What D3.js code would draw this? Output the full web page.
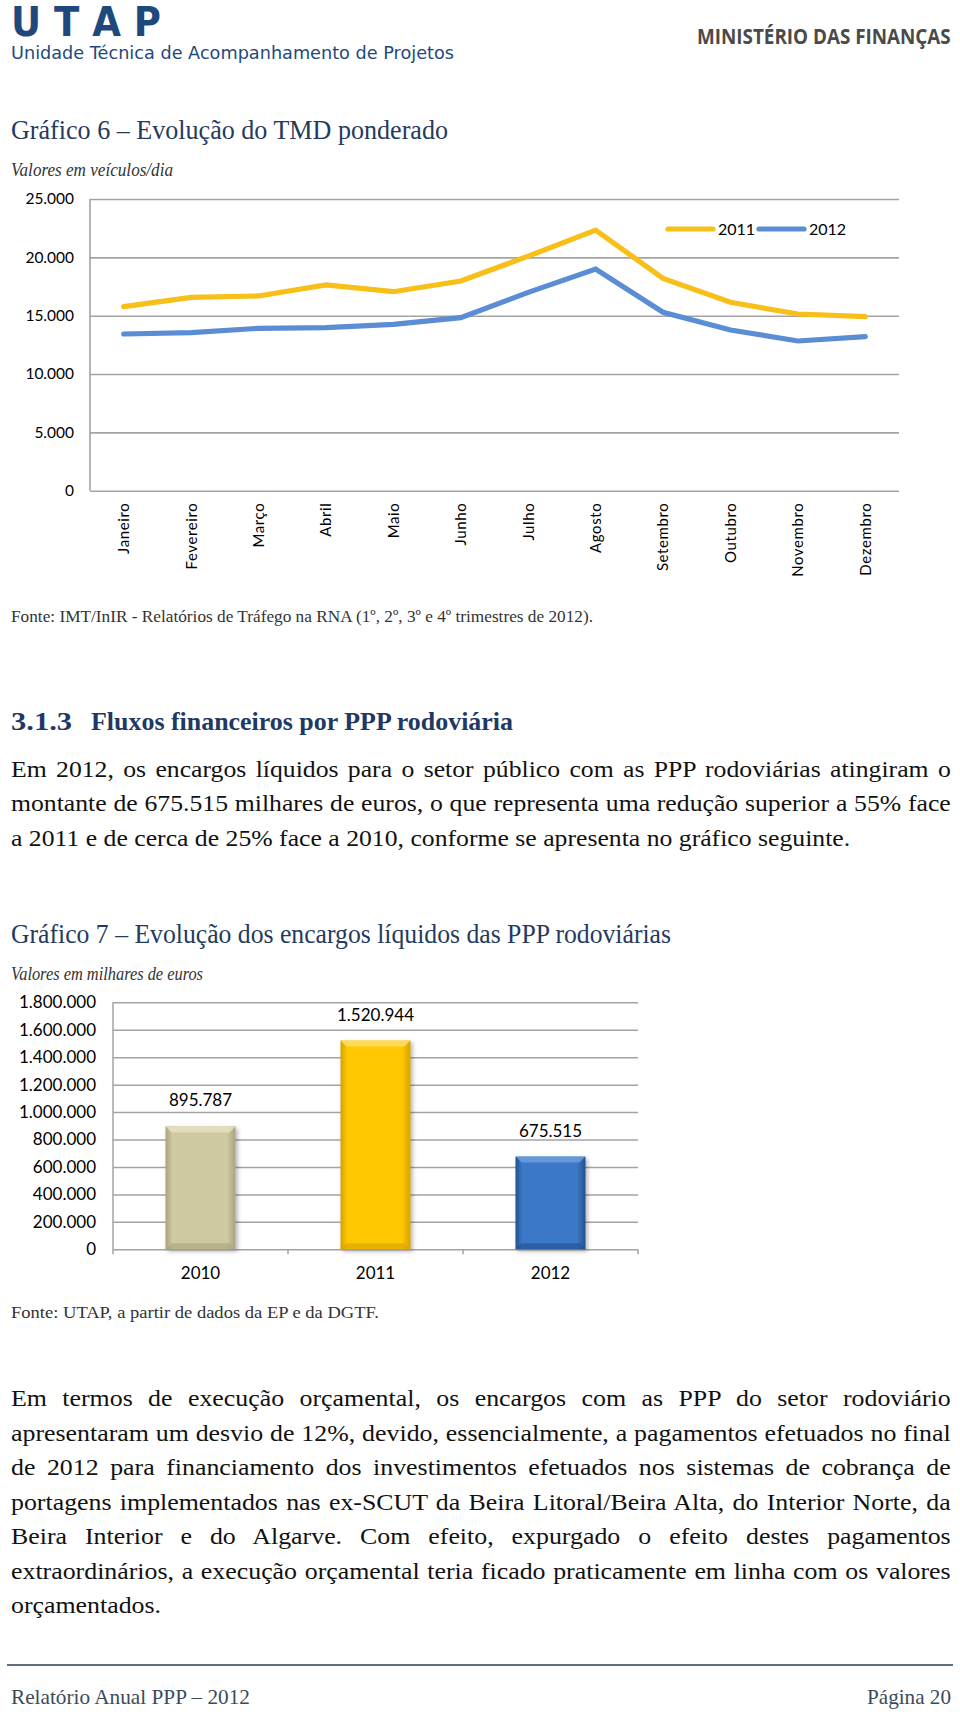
<!DOCTYPE html>
<html><head><meta charset="utf-8">
<script src="https://cdn.jsdelivr.net/npm/d3@7"></script>
<style>body{margin:0;background:#fff} svg{display:block}</style>
</head><body>
<svg id="page" width="960" height="1715"></svg>
<script>
// ---------- DATA ----------
const months = ["Janeiro","Fevereiro","Março","Abril","Maio","Junho","Julho","Agosto","Setembro","Outubro","Novembro","Dezembro"];
const tmd2011 = [15770,16575,16690,17630,17055,17970,20100,22330,18200,16145,15145,14915];
const tmd2012 = [13430,13545,13915,13975,14260,14830,17000,19000,15290,13770,12830,13200];
const tmdTicks = [0,5000,10000,15000,20000,25000];
const tmdSeries = ["2011","2012"];

const years = ["2010","2011","2012"];
const encargos = [895787,1520944,675515];
const encargosTicks = [0,200000,400000,600000,800000,1000000,1200000,1400000,1600000,1800000];

const para1 = [
 "Em 2012, os encargos líquidos para o setor público com as PPP rodoviárias atingiram o",
 "montante de 675.515 milhares de euros, o que representa uma redução superior a 55% face",
 "a 2011 e de cerca de 25% face a 2010, conforme se apresenta no gráfico seguinte."];
const para2 = [
 "Em termos de execução orçamental, os encargos com as PPP do setor rodoviário",
 "apresentaram um desvio de 12%, devido, essencialmente, a pagamentos efetuados no final",
 "de 2012 para financiamento dos investimentos efetuados nos sistemas de cobrança de",
 "portagens implementados nas ex-SCUT da Beira Litoral/Beira Alta, do Interior Norte, da",
 "Beira Interior e do Algarve. Com efeito, expurgado o efeito destes pagamentos",
 "extraordinários, a execução orçamental teria ficado praticamente em linha com os valores",
 "orçamentados."];

// ---------- SETUP ----------
const svg = d3.select("#page");
const SERIF = "'Liberation Serif', 'DejaVu Serif', serif";
const SANS = "Lato, 'Open Sans', sans-serif";
const pt = d3.formatLocale({decimal:",", thousands:".", grouping:[3], currency:["","€"]}).format(",d");

function fit(sel, w){ sel.attr("textLength", w).attr("lengthAdjust","spacingAndGlyphs"); return sel; }
function label(x,y,txt,opts){
  const t = svg.append("text").attr("x",x).attr("y",y).text(txt)
    .attr("font-family", opts.family||SERIF).attr("font-size", opts.size)
    .attr("fill", opts.fill||"#000");
  if (opts.weight) t.attr("font-weight", opts.weight);
  if (opts.style) t.attr("font-style", opts.style);
  if (opts.anchor) t.attr("text-anchor", opts.anchor);
  if (opts.width) fit(t, opts.width);
  return t;
}
// horizontally scaled label (condensed look) that keeps its box inside the page
function scaled(x,y,txt,opts){
  const t = svg.append("text").attr("x",0).attr("y",0).text(txt)
    .attr("font-family", opts.family||SERIF).attr("font-size", opts.size)
    .attr("fill", opts.fill||"#000");
  if (opts.weight) t.attr("font-weight", opts.weight);
  const w = t.node().getComputedTextLength();
  t.attr("transform",`translate(${x},${y}) scale(${opts.width/w},1)`);
  return t;
}

// ---------- HEADER ----------
label(11, 36, "U T A P", {family:"'DejaVu Sans', sans-serif", size:40, weight:"bold", fill:"#1F497D", width:150});
label(11, 59, "Unidade Técnica de Acompanhamento de Projetos", {family:"'DejaVu Sans', sans-serif", size:18, fill:"#1F497D", width:443});
scaled(697, 44, "MINISTÉRIO DAS FINANÇAS", {family:"'Open Sans', sans-serif", size:21, weight:"bold", fill:"#4a4a4a", width:254});

// ---------- CHART 6 ----------
label(11, 139, "Gráfico 6 – Evolução do TMD ponderado", {size:28, fill:"#243A5E", width:437});
label(11, 176, "Valores em veículos/dia", {size:19, style:"italic", fill:"#333", width:162});

const c1 = {left:90, right:899, top:199, bottom:490.7};
const x1 = d3.scalePoint().domain(months).range([c1.left, c1.right]).padding(0.5);
const y1 = d3.scaleLinear().domain([0,25000]).range([c1.bottom, c1.top]);

const g1 = svg.append("g");
const ax1 = g1.append("g").attr("transform",`translate(${c1.left},0)`)
  .call(d3.axisLeft(y1).tickValues(tmdTicks).tickFormat(pt).tickSize(-(c1.right-c1.left)).tickPadding(16));
ax1.select(".domain").remove();
ax1.selectAll(".tick line").attr("stroke","#a3a3a3").attr("stroke-width",1.6);
ax1.selectAll(".tick text").attr("font-family",SANS).attr("font-size",15.5).attr("fill","#000");
g1.append("line").attr("x1",c1.left).attr("x2",c1.left).attr("y1",y1(25000)).attr("y2",y1(0))
  .attr("stroke","#a3a3a3").attr("stroke-width",1.6);

// month labels
g1.selectAll(".mlab").data(months).join("text")
  .attr("transform", d=>`translate(${x1(d)},${c1.bottom+12}) rotate(-90)`)
  .attr("text-anchor","end").attr("dy","0.36em")
  .attr("font-family",SANS).attr("font-size",15).attr("letter-spacing",0.6).attr("fill","#000")
  .text(d=>d);

const colors1 = {"2011":"#F7BF17","2012":"#5A8DD3"};
const line1 = d3.line().x((d,i)=>x1(months[i])).y(d=>y1(d));
[["2011",tmd2011],["2012",tmd2012]].forEach(([k,vals])=>{
  g1.append("path").datum(vals).attr("d",line1).attr("fill","none")
    .attr("stroke",colors1[k]).attr("stroke-width",5.2).attr("stroke-linecap","round").attr("stroke-linejoin","miter");
});
// legend
const leg = g1.append("g");
tmdSeries.forEach((k,i)=>{
  const lx = 668 + i*91;
  leg.append("line").attr("x1",lx).attr("x2",lx+45).attr("y1",229).attr("y2",229)
    .attr("stroke",colors1[k]).attr("stroke-width",5.2).attr("stroke-linecap","round");
  leg.append("text").attr("x",lx+50).attr("y",229).attr("dy","0.36em")
    .attr("font-family",SANS).attr("font-size",16).attr("fill","#000").text(k);
});

label(11, 622, "Fonte: IMT/InIR - Relatórios de Tráfego na RNA (1º, 2º, 3º e 4º trimestres de 2012).", {size:17, fill:"#333", width:582});

// ---------- SECTION ----------
label(11, 730, "3.1.3", {size:24.5, weight:"bold", fill:"#1F3864", width:61});
label(91, 730, "Fluxos financeiros por PPP rodoviária", {size:24.5, weight:"bold", fill:"#1F3864", width:422});

// justified paragraphs
function para(lines, baselines, size){
  const W = 940, X = 11;
  const texts = lines.map((t,i)=> svg.append("text").attr("font-family",SERIF).attr("font-size",size)
      .attr("fill","#111").attr("x",0).attr("y",0).text(t));
  const widths = texts.map(t=>t.node().getComputedTextLength());
  let sx = d3.min(widths.slice(0,-1), w=>W/w) * 0.995;
  texts.forEach((t,i)=>{
    t.attr("transform",`translate(${X},${baselines[i]}) scale(${sx},1)`);
    if (i < lines.length-1){
      const spaces = (lines[i].match(/ /g)||[]).length;
      t.style("word-spacing", ((W/sx - widths[i])/spaces) + "px");
    }
  });
}
para(para1, [776.5, 811, 845.5], 23.5);

// ---------- CHART 7 ----------
label(11, 943, "Gráfico 7 – Evolução dos encargos líquidos das PPP rodoviárias", {size:28, fill:"#243A5E", width:660});
label(11, 980, "Valores em milhares de euros", {size:19, style:"italic", fill:"#333", width:192});

const c2 = {left:113, right:638, top:1002.3, bottom:1249.3};
const x2 = d3.scaleBand().domain(years).range([c2.left,c2.right]).paddingInner(0.6).paddingOuter(0.3);
const y2 = d3.scaleLinear().domain([0,1800000]).range([c2.bottom,c2.top]);
const g2 = svg.append("g");

const ax2 = g2.append("g").attr("transform",`translate(${c2.left},0)`)
  .call(d3.axisLeft(y2).tickValues(encargosTicks).tickFormat(pt).tickSize(-(c2.right-c2.left)).tickPadding(17));
ax2.select(".domain").remove();
ax2.selectAll(".tick line").attr("stroke","#a3a3a3").attr("stroke-width",1.5);
ax2.selectAll(".tick text").attr("font-family",SANS).attr("font-size",17).attr("fill","#000");
g2.append("line").attr("x1",c2.left).attr("x2",c2.left).attr("y1",y2(1800000)).attr("y2",y2(0))
  .attr("stroke","#a3a3a3").attr("stroke-width",1.5);
// category ticks
const tickXs = d3.range(years.length+1).map(i=>c2.left + i*x2.step());
g2.selectAll(".ct").data(tickXs).join("line").attr("x1",d=>d).attr("x2",d=>d)
  .attr("y1",y2(0)).attr("y2",y2(0)+5).attr("stroke","#a3a3a3").attr("stroke-width",1.5);

// defs for bars
const defs = svg.append("defs");
defs.append("filter").attr("id","shadow").attr("x","-20%").attr("y","-10%").attr("width","150%").attr("height","130%")
  .append("feDropShadow").attr("dx",2).attr("dy",2).attr("stdDeviation",2).attr("flood-color","#000").attr("flood-opacity",0.3);
const barCol = {
  "2010":{base:"#CFC9A1", light:"#E6E1C2", dark:"#A9A37E"},
  "2011":{base:"#FFC805", light:"#FFDD66", dark:"#D6A200"},
  "2012":{base:"#3B79C6", light:"#6C9DD9", dark:"#21508E"}
};
years.forEach(k=>{
  const gr = defs.append("linearGradient").attr("id","bg"+k).attr("x1",0).attr("x2",1).attr("y1",0).attr("y2",0);
  gr.append("stop").attr("offset","0%").attr("stop-color",barCol[k].dark);
  gr.append("stop").attr("offset","10%").attr("stop-color",barCol[k].base);
  gr.append("stop").attr("offset","88%").attr("stop-color",barCol[k].base);
  gr.append("stop").attr("offset","100%").attr("stop-color",barCol[k].dark);
});
const bars = g2.selectAll(".bar").data(years.map((k,i)=>({k,v:encargos[i]}))).join("g").attr("class","bar");
bars.append("rect").attr("x",d=>x2(d.k)).attr("y",d=>y2(d.v)).attr("width",x2.bandwidth())
  .attr("height",d=>y2(0)-y2(d.v)).attr("fill",d=>`url(#bg${d.k})`).attr("filter","url(#shadow)");
const b = 6;
bars.append("path").attr("d",d=>{
  const x0=x2(d.k), x1_=x0+x2.bandwidth(), t=y2(d.v);
  return `M${x0},${t}L${x1_},${t}L${x1_-b},${t+b}L${x0+b},${t+b}Z`;
}).attr("fill",d=>barCol[d.k].light).attr("opacity",0.85);
bars.append("path").attr("d",d=>{
  const x0=x2(d.k), x1_=x0+x2.bandwidth(), bt=y2(0);
  return `M${x0},${bt}L${x1_},${bt}L${x1_-b},${bt-b}L${x0+b},${bt-b}Z`;
}).attr("fill",d=>barCol[d.k].dark).attr("opacity",0.6);
bars.append("text").attr("x",d=>x2(d.k)+x2.bandwidth()/2).attr("y",d=>y2(d.v)-20)
  .attr("text-anchor","middle").attr("font-family",SANS).attr("font-size",17).attr("fill","#000")
  .text(d=>pt(d.v));
g2.selectAll(".xl").data(years).join("text").attr("x",d=>x2(d)+x2.bandwidth()/2).attr("y",1279)
  .attr("text-anchor","middle").attr("font-family",SANS).attr("font-size",17).attr("fill","#000").text(d=>d);

label(11, 1318, "Fonte: UTAP, a partir de dados da EP e da DGTF.", {size:17, fill:"#333", width:368});

// ---------- PARAGRAPH 2 ----------
para(para2, d3.range(7).map(i=>1406 + i*34.5), 23.5);

// ---------- FOOTER ----------
svg.append("line").attr("x1",7).attr("x2",953).attr("y1",1665).attr("y2",1665).attr("stroke","#5E6F80").attr("stroke-width",2);
label(11, 1704, "Relatório Anual PPP – 2012", {size:21, fill:"#3B4A5C", width:239});
label(951, 1704, "Página 20", {size:21, fill:"#3B4A5C", anchor:"end", width:84});
</script>
</body></html>
